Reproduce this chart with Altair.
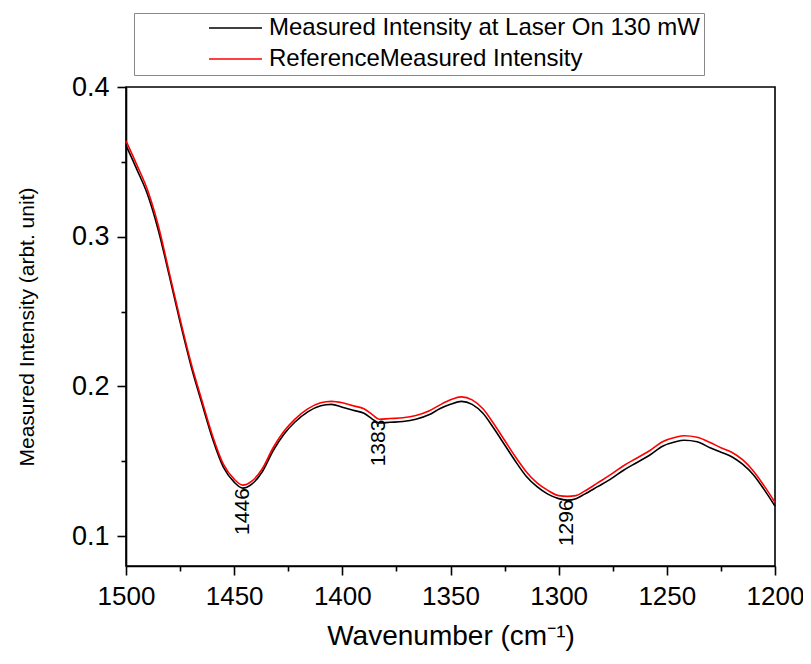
import altair as alt
import pandas as pd

wavenumber = [1500, 1495, 1490, 1485, 1480, 1475, 1470, 1465, 1460, 1455, 1450, 1446,
              1442, 1437, 1432, 1427, 1422, 1416, 1410, 1405, 1400, 1395, 1390, 1386,
              1383, 1378, 1372, 1366, 1360, 1355, 1350, 1345, 1340, 1335, 1330, 1325,
              1320, 1315, 1310, 1305, 1300, 1296, 1292, 1288, 1282, 1276, 1270, 1264,
              1258, 1252, 1246, 1242, 1236, 1230, 1225, 1220, 1215, 1210, 1205, 1200]

measured = [0.361, 0.345, 0.328, 0.304, 0.274, 0.243, 0.214, 0.189, 0.165, 0.146, 0.136, 0.132,
            0.1345, 0.143, 0.157, 0.168, 0.176, 0.183, 0.187, 0.188, 0.186, 0.184, 0.182, 0.178,
            0.1755, 0.176, 0.1765, 0.178, 0.181, 0.185, 0.188, 0.190, 0.188, 0.182, 0.172, 0.161,
            0.150, 0.140, 0.133, 0.128, 0.125, 0.124, 0.125, 0.128, 0.133, 0.138, 0.144, 0.149,
            0.154, 0.160, 0.163, 0.164, 0.163, 0.159, 0.156, 0.153, 0.148, 0.141, 0.131, 0.120]

reference = [0.364, 0.348, 0.331, 0.307, 0.276, 0.245, 0.216, 0.191, 0.167, 0.148, 0.138, 0.134,
             0.1365, 0.145, 0.159, 0.170, 0.178, 0.185, 0.189, 0.190, 0.189, 0.187, 0.185, 0.181,
             0.178, 0.1785, 0.179, 0.1805, 0.1835, 0.1875, 0.191, 0.193, 0.191, 0.185, 0.175, 0.164,
             0.153, 0.143, 0.1355, 0.1305, 0.127, 0.1265, 0.127, 0.130, 0.1355, 0.141, 0.147, 0.152,
             0.157, 0.163, 0.166, 0.167, 0.166, 0.1625, 0.159, 0.156, 0.151, 0.1435, 0.1335, 0.1225]

series_names = ["Measured Intensity at Laser On 130 mW", "ReferenceMeasured Intensity"]
series_colors = ["#000000", "#ff0000"]

peak_wn = [1446, 1383, 1296]
peak_y = [0.132, 0.1778, 0.1245]
peak_labels = ["1446", "1383", "1296"]

x_ticks = list(range(1200, 1501, 25))
y_ticks = [0.1, 0.15, 0.2, 0.25, 0.3, 0.35, 0.4]

FONT = "Liberation Sans"

df = pd.concat([
    pd.DataFrame({"wn": wavenumber, "val": measured, "series": series_names[0], "order": 0}),
    pd.DataFrame({"wn": wavenumber, "val": reference, "series": series_names[1], "order": 1}),
])
peaks = pd.DataFrame({"wn": peak_wn, "val": peak_y, "label": peak_labels})

major_y = "abs(datum.value*10 - round(datum.value*10)) < 0.001"
major_x = "datum.value % 50 === 0"

x_enc = alt.X(
    "wn:Q",
    scale=alt.Scale(domain=[1200, 1500], reverse=True, nice=False, zero=False),
    axis=alt.Axis(
        values=x_ticks, format="d",
        labelExpr=f"{major_x} ? datum.label : ''",
        tickSize={"condition": {"test": major_x, "value": 9}, "value": 5},
        title="Wavenumber (cm⁻¹)", labelFlush=False, labelOverlap=False,
        labelFontSize=26, titleFontSize=28, labelPadding=8, titlePadding=13,
    ),
)
y_enc = alt.Y(
    "val:Q",
    scale=alt.Scale(domain=[0.08, 0.4], nice=False, zero=False),
    axis=alt.Axis(
        values=y_ticks, format=".1f",
        labelExpr=f"{major_y} ? datum.label : ''",
        tickSize={"condition": {"test": major_y, "value": 9}, "value": 5},
        title="Measured Intensity (arbt. unit)", labelFlush=False, labelOverlap=False,
        labelFontSize=27, titleFontSize=21, labelPadding=8, titlePadding=34,
    ),
)

lines = alt.Chart(df).mark_line(strokeWidth=1.6, interpolate="monotone").encode(
    x=x_enc,
    y=y_enc,
    color=alt.Color(
        "series:N",
        scale=alt.Scale(domain=series_names, range=series_colors),
        legend=alt.Legend(
            orient="none", legendX=8, legendY=-74, title=None,
            symbolType="stroke", symbolSize=2809, symbolStrokeWidth=1.6,
            clipHeight=22,
            labelFontSize=24, labelFont=FONT, labelLimit=800,
            padding=4, rowPadding=7, strokeColor="#888888", fillColor="white",
            symbolOffset=70, labelOffset=6,
        ),
    ),
    detail="series:N",
    order="order:Q",
)

texts = alt.Chart(peaks).mark_text(
    angle=270, align="right", baseline="middle", fontSize=21, font=FONT, color="black"
).encode(x="wn:Q", y="val:Q", text="label:N")

chart = alt.layer(lines, texts).properties(
    width=649, height=479,
    autosize=alt.AutoSizeParams(type="none"),
    padding={"left": 118, "top": 79, "right": 28, "bottom": 90},
).configure_view(
    stroke="black", strokeWidth=1.6
).configure_axis(
    domainColor="black", domainWidth=1.6, tickColor="black", tickWidth=1.6,
    labelColor="black", titleColor="black", labelFont=FONT, titleFont=FONT,
    titleFontWeight="normal", grid=False,
)

chart.save("out.html", embed_options={"renderer": "svg", "actions": False})
